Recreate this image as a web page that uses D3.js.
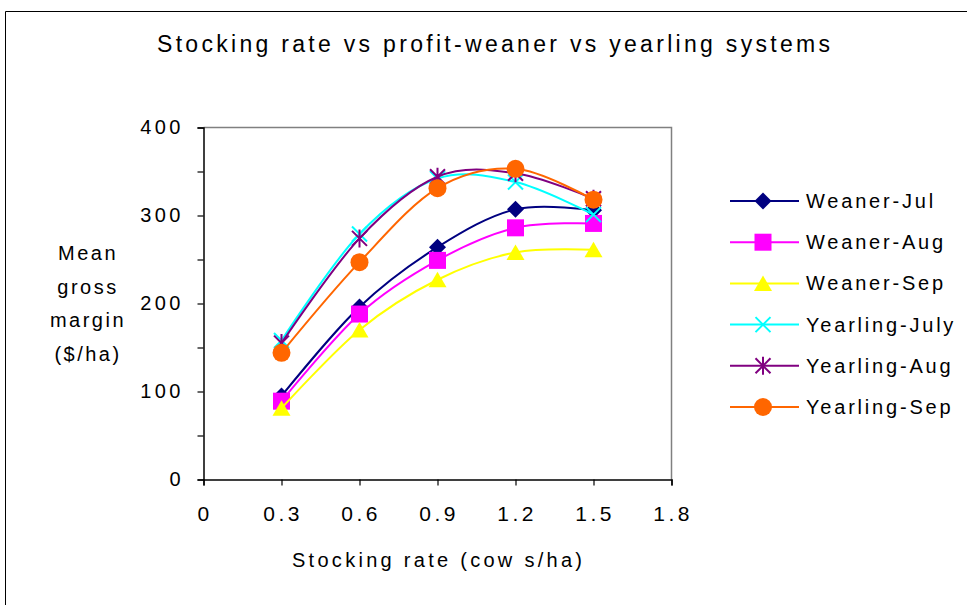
<!DOCTYPE html>
<html>
<head>
<meta charset="utf-8">
<script src="https://cdn.jsdelivr.net/npm/d3@7"></script>
<style>
  body { margin: 0; background: #fff; }
  svg text { font-family: "Liberation Sans", Arial, sans-serif; fill: #000; }
</style>
</head>
<body>
<div id="chart"></div>
<script>
// data
var stockingRates = [0.3, 0.6, 0.9, 1.2, 1.5];
var weanerJul = [95, 196, 264, 307, 306];
var weanerAug = [89, 188, 249, 286, 291];
var weanerSep = [81, 170, 227, 258, 261];
var yearlingJuly = [158, 279, 342, 338, 301];
var yearlingAug = [155, 274, 344, 348, 319];
var yearlingSep = [144, 247, 331, 353, 318];
var xTicks = [0, 0.3, 0.6, 0.9, 1.2, 1.5, 1.8];
var yTicks = [0, 100, 200, 300, 400];

var series = [
  {name: "Weaner-Jul", values: weanerJul, color: "#000080", marker: "diamond"},
  {name: "Weaner-Aug", values: weanerAug, color: "#FF00FF", marker: "square"},
  {name: "Weaner-Sep", values: weanerSep, color: "#FFFF00", marker: "triangle"},
  {name: "Yearling-July", values: yearlingJuly, color: "#00FFFF", marker: "x"},
  {name: "Yearling-Aug", values: yearlingAug, color: "#800080", marker: "star"},
  {name: "Yearling-Sep", values: yearlingSep, color: "#FF6600", marker: "circle"}
];

var width = 967, height = 605;
var plot = {left: 203.5, top: 127.5, right: 671.5, bottom: 479.5};

var svg = d3.select("#chart").append("svg")
  .attr("width", width)
  .attr("height", height);

// outer chart frame
svg.append("path")
  .attr("d", "M5.5," + height + "V11.5H" + width)
  .attr("fill", "none")
  .attr("stroke", "#000")
  .attr("stroke-width", 1);

var x = d3.scaleLinear().domain([0, 1.8]).range([plot.left, plot.right]);
var y = d3.scaleLinear().domain([0, 400]).range([plot.bottom, plot.top]);

// plot border (top + right gray)
svg.append("path")
  .attr("d", "M" + plot.left + "," + plot.top + "H" + plot.right + "V" + plot.bottom)
  .attr("fill", "none")
  .attr("stroke", "#808080")
  .attr("stroke-width", 1.5);

// axes
var yAxis = svg.append("g")
  .attr("transform", "translate(" + plot.left + ",0)")
  .call(d3.axisLeft(y).tickValues(d3.range(0, 401, 50)).tickSize(6).tickFormat(""));
var xAxis = svg.append("g")
  .attr("transform", "translate(0," + plot.bottom + ")")
  .call(d3.axisBottom(x).tickValues(xTicks).tickSize(6).tickFormat(""));
[xAxis, yAxis].forEach(function(a) {
  a.select(".domain").attr("stroke", "#000").attr("stroke-width", 1.5);
  a.selectAll(".tick line").attr("stroke", "#000").attr("stroke-width", 1.2);
});

svg.append("g").selectAll("text")
  .data(yTicks)
  .enter().append("text")
  .attr("x", 184)
  .attr("y", function(d) { return y(d) + 6; })
  .attr("text-anchor", "end")
  .style("font-size", "20px")
  .style("letter-spacing", "3.5px")
  .text(function(d) { return d; });

svg.append("g").selectAll("text")
  .data(xTicks)
  .enter().append("text")
  .attr("x", function(d) { return x(d) + 1.7; })
  .attr("y", 521)
  .attr("text-anchor", "middle")
  .style("font-size", "21px")
  .style("letter-spacing", "3.5px")
  .text(function(d) { return d; });

// titles
svg.append("text")
  .attr("x", 157).attr("y", 52)
  .attr("textLength", 673)
  .attr("lengthAdjust", "spacing")
  .style("font-size", "23px")
  .text("Stocking rate vs profit-weaner vs yearling systems");

svg.append("text")
  .attr("x", 292).attr("y", 567)
  .attr("textLength", 290)
  .attr("lengthAdjust", "spacing")
  .style("font-size", "20px")
  .text("Stocking rate (cow s/ha)");

var yLabel = ["Mean", "gross", "margin", "($/ha)"];
svg.append("g").selectAll("text")
  .data(yLabel)
  .enter().append("text")
  .attr("x", 88)
  .attr("y", function(d, i) { return 260 + i * 33.5; })
  .attr("text-anchor", "middle")
  .style("font-size", "20px")
  .style("letter-spacing", "2.5px")
  .text(function(d) { return d; });

// markers
function drawMarker(g, type, color) {
  if (type === "diamond") {
    g.append("path").attr("d", "M0,-8.5L8.5,0L0,8.5L-8.5,0Z").attr("fill", color);
  } else if (type === "square") {
    g.append("rect").attr("x", -8.5).attr("y", -8.5).attr("width", 17).attr("height", 17).attr("fill", color);
  } else if (type === "triangle") {
    g.append("path").attr("d", "M0,-8L9,7.5L-9,7.5Z").attr("fill", color);
  } else if (type === "x") {
    g.append("path").attr("d", "M-7.5,-7.5L7.5,7.5M-7.5,7.5L7.5,-7.5").attr("stroke", color).attr("stroke-width", 2);
  } else if (type === "star") {
    g.append("path").attr("d", "M-7.5,-7.5L7.5,7.5M-7.5,7.5L7.5,-7.5M0,-9V9").attr("stroke", color).attr("stroke-width", 2);
  } else if (type === "circle") {
    g.append("circle").attr("r", 9).attr("fill", color);
  }
}

var line = d3.line()
  .x(function(d, i) { return x(stockingRates[i]); })
  .y(function(d) { return y(d); })
  .curve(d3.curveCardinal.tension(0));

var gLines = svg.append("g");
series.forEach(function(s) {
  gLines.append("path")
    .datum(s.values)
    .attr("d", line)
    .attr("fill", "none")
    .attr("stroke", s.color)
    .attr("stroke-width", 2);
  s.values.forEach(function(v, i) {
    var m = gLines.append("g")
      .attr("transform", "translate(" + x(stockingRates[i]) + "," + y(v) + ")");
    drawMarker(m, s.marker, s.color);
  });
});

// legend
var legend = svg.append("g");
series.forEach(function(s, i) {
  var ly = 201 + i * 41.2;
  legend.append("line")
    .attr("x1", 730).attr("x2", 799)
    .attr("y1", ly).attr("y2", ly)
    .attr("stroke", s.color).attr("stroke-width", 2);
  var m = legend.append("g").attr("transform", "translate(763," + ly + ")");
  drawMarker(m, s.marker, s.color);
  legend.append("text")
    .attr("x", 806).attr("y", ly + 7)
    .style("font-size", "20px")
    .style("letter-spacing", "2.8px")
    .text(s.name);
});
</script>
</body>
</html>
